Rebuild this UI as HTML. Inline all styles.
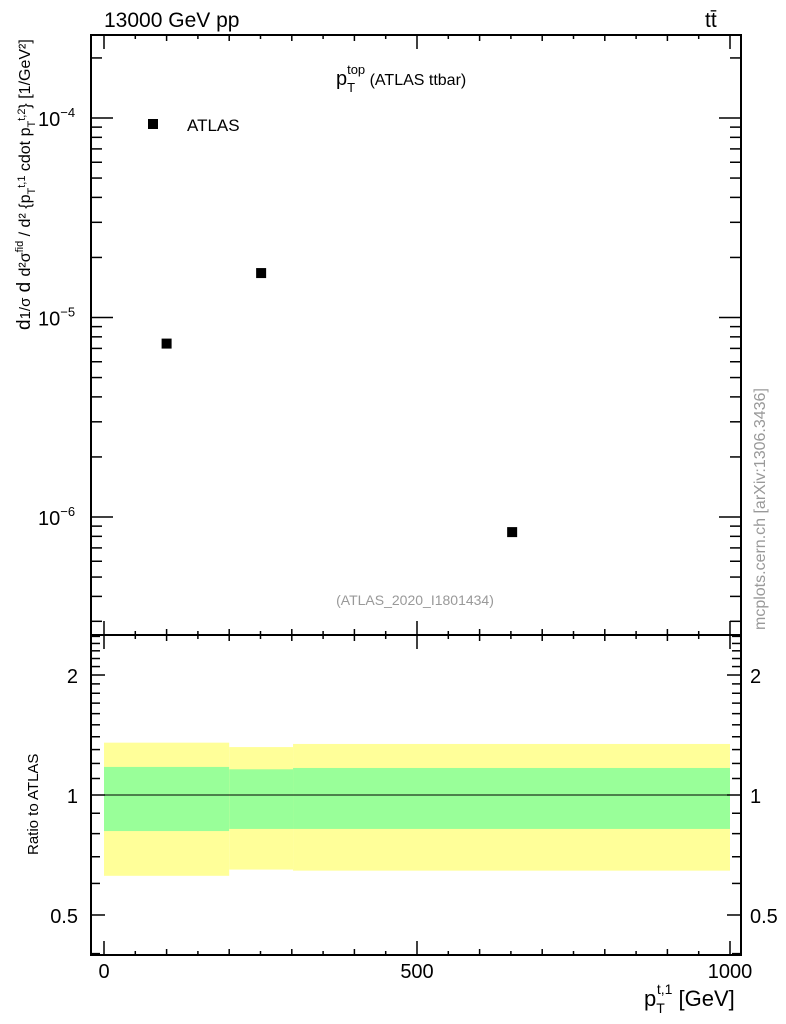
<!DOCTYPE html>
<html><head><meta charset="utf-8"><style>
body{margin:0;background:#fff;}
svg{display:block;font-family:"Liberation Sans",sans-serif;}
</style></head><body>
<svg id="c" width="786" height="1024"></svg>
<script>
const xBinsLo=[0,200,302];
const xBinsHi=[200,302,1000];
const dataX=[100,251,652];
const dataY=[7.4e-6,1.67e-5,8.4e-7];
const yellowLo=[0.627,0.650,0.646];
const yellowHi=[1.353,1.319,1.343];
const greenLo=[0.812,0.822,0.822];
const greenHi=[1.176,1.160,1.169];
const xTicks=[0,500,1000];
const yTicksExp=[-4,-5,-6];
const rTicks=[0.5,1,2];

const NS="http://www.w3.org/2000/svg";
const svg=document.getElementById('c');
function el(t,a,p){const e=document.createElementNS(NS,t);for(const k in a)e.setAttribute(k,a[k]);(p||svg).appendChild(e);return e;}
const L=91,R=741,T=35,M=635,B=955;
const X=v=>104+v*0.626;
const Y=v=>118-(Math.log10(v)+4)*199.5;
const RY=v=>795-Math.log10(v)*398.6;

// bands
for(let i=0;i<xBinsLo.length;i++){
  const y=el('rect',{x:X(xBinsLo[i]),y:RY(yellowHi[i]),width:X(xBinsHi[i])-X(xBinsLo[i]),height:RY(yellowLo[i])-RY(yellowHi[i]),fill:'#ffff99'});
  
  
  const g=el('rect',{x:X(xBinsLo[i]),y:RY(greenHi[i]),width:X(xBinsHi[i])-X(xBinsLo[i]),height:RY(greenLo[i])-RY(greenHi[i]),fill:'#99ff99'});
  
  
}
const ref=el('line',{x1:L,x2:R,y1:RY(1),y2:RY(1),stroke:'#000','stroke-width':1});



// frames
const f1=el('rect',{x:L,y:T,width:R-L,height:M-T,fill:'none',stroke:'#000','stroke-width':2});


const f2=el('rect',{x:L,y:M,width:R-L,height:B-M,fill:'none',stroke:'#000','stroke-width':2});



function tick(x1,y1,x2,y2){el('line',{x1,y1,x2,y2,stroke:'#000','stroke-width':1.5});}
// y log ticks main
for(let e=-7;e<=-3;e++){for(let m=1;m<10;m++){const v=m*Math.pow(10,e);const y=Y(v);if(y<T||y>M)continue;const len=m==1?22:11;tick(L,y,L+len,y);tick(R,y,R-len,y);}}
// ratio ticks
for(let v=0.4;v<=2.6;v+=0.1){const y=RY(v);if(y<M||y>B)continue;const maj=[0.5,1,2].some(t=>Math.abs(t-v)<1e-6);const len=maj?14:9;tick(L,y,L+len,y);tick(R,y,R-len,y);}
[3,4,5].forEach(()=>{});
// x ticks
for(let v=0;v<=1000;v+=50){const x=X(v);const len=v%500==0?14:(v%100==0?6:4);[T,M].forEach(yt=>tick(x,yt,x,yt+len));[M,B].forEach(yb=>tick(x,yb,x,yb-len));}

// points
for(let i=0;i<dataX.length;i++){
  const p=el('rect',{x:X(dataX[i])-5,y:Y(dataY[i])-5,width:10,height:10,fill:'#000'});
  
  
}
// labels
function txt(s,a,name){const t=el('text',a);t.innerHTML=s;return t;}
yTicksExp.forEach(e=>txt('10<tspan dy="-9" font-size="13">−'+(-e)+'</tspan>',{x:38,y:Y(Math.pow(10,e))+8,'font-size':20},'y-tick-label'));
rTicks.forEach(v=>{txt(String(v),{x:78,y:RY(v)+8,'font-size':20,'text-anchor':'end'},'ratio-tick-left');txt(String(v),{x:750,y:RY(v)+8,'font-size':20},'ratio-tick-right');});
xTicks.forEach(v=>txt(String(v),{x:X(v),y:978,'font-size':20,'text-anchor':'middle'},'x-tick-label'));
txt('13000 GeV pp',{x:104,y:27,'font-size':21},'energy-label');
txt('tt̄',{x:705,y:27,'font-size':21},'process-label');
txt('p<tspan dy="7" font-size="13">T</tspan><tspan dy="-18" font-size="13" dx="-8">top</tspan><tspan dy="11" font-size="16"> (ATLAS ttbar)</tspan>',{x:336,y:85,'font-size':20},'plot-title');
el('rect',{x:148,y:119,width:10,height:10,fill:'#000'});
txt('ATLAS',{x:187,y:131,'font-size':17},'legend-atlas');
txt('(ATLAS_2020_I1801434)',{x:415,y:605,'font-size':14,fill:'#999','text-anchor':'middle'},'analysis-id');
txt('mcplots.cern.ch [arXiv:1306.3436]',{x:0,y:0,'font-size':16,fill:'#999',transform:'translate(765,630) rotate(-90)'},'watermark');
txt('p<tspan dy="7" font-size="14">T</tspan><tspan dy="-19" font-size="14" dx="-8">t,1</tspan><tspan dy="12"> [GeV]</tspan>',{x:644,y:1006,'font-size':22},'x-axis-title');
txt('Ratio to ATLAS',{x:0,y:0,'font-size':15,transform:'translate(38,855) rotate(-90)'},'ratio-y-title');
txt('d<tspan font-size="15">1/σ</tspan> d <tspan font-size="16">d²σ</tspan><tspan font-size="11" dy="-7">fid</tspan><tspan dy="7" font-size="16"> / d² {p</tspan><tspan font-size="11" dy="5">T</tspan><tspan font-size="11" dy="-10">t,1</tspan><tspan dy="5" font-size="16"> cdot p</tspan><tspan font-size="11" dy="5">T</tspan><tspan font-size="11" dy="-10">t,2</tspan><tspan dy="5" font-size="16">} [1/GeV²]</tspan>',{x:0,y:0,'font-size':19,transform:'translate(30,330) rotate(-90)'},'y-axis-title');
</script>
</body></html>
